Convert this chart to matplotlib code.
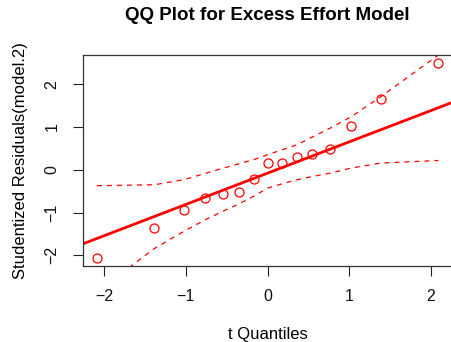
import matplotlib
matplotlib.use("Agg")
import matplotlib.pyplot as plt
import numpy as np

plt.rcParams['font.family'] = ['Liberation Sans', 'DejaVu Sans']

# Data
t_quantiles = [-2.086, -1.383, -1.024, -0.763, -0.547, -0.351, -0.171, 0.0,
               0.175, 0.355, 0.542, 0.763, 1.024, 1.387, 2.089]
stud_resid = [-2.06, -1.37, -0.94, -0.653, -0.56, -0.513, -0.218, 0.156,
              0.163, 0.295, 0.365, 0.49, 1.026, 1.66, 2.50]
env_upper = [-0.373, -0.35, -0.233, -0.085, 0.035, 0.14, 0.235, 0.35,
             0.465, 0.58, 0.76, 0.97, 1.24, 1.71, 2.68]
env_lower = [-2.85, -1.84, -1.44, -1.17, -0.97, -0.80, -0.62, -0.43,
             -0.33, -0.235, -0.16, -0.08, 0.04, 0.156, 0.217]
line_intercept = -0.079
line_slope = 0.732
x_ticks = [-2, -1, 0, 1, 2]
y_ticks = [-2, -1, 0, 1, 2]

fig = plt.figure(figsize=(4.51, 3.42), dpi=100)
ax = fig.add_axes([83.3 / 451, 1 - 265.7 / 342, (452 - 83.3) / 451, (265.7 - 55) / 342])

ax.plot(t_quantiles, stud_resid, 'o', mfc='none', mec='red', ms=6.5, mew=0.9,
        zorder=3)
ax.axline((0, line_intercept), slope=line_slope, color='red', lw=2, zorder=2)
ax.plot(t_quantiles, env_upper, color='red', lw=0.9, ls=(0, (4, 4)), zorder=2)
ax.plot(t_quantiles, env_lower, color='red', lw=0.9, ls=(0, (4, 4)), zorder=2)

xr = max(t_quantiles) - min(t_quantiles)
yr = max(stud_resid) - min(stud_resid)
ax.set_xlim(min(t_quantiles) - 0.04 * xr, max(t_quantiles) + 0.04 * xr)
ax.set_ylim(min(stud_resid) - 0.04 * yr, max(stud_resid) + 0.04 * yr)

ax.set_xticks(x_ticks)
ax.set_yticks(y_ticks)
ax.set_xticklabels(['\u22122', '\u22121', '0', '1', '2'])
ax.set_yticklabels(['\u22122', '\u22121', '0', '1', '2'], rotation=90, va='center')
ax.tick_params(axis='both', length=7, width=0.8, labelsize=11.5, pad=10,
               color='#222222', labelcolor='#111111')

for s in ax.spines.values():
    s.set_color('#333333')
    s.set_linewidth(0.9)

ax.set_title('QQ Plot for Excess Effort Model', fontsize=13.5, fontweight='bold',
             pad=25)
fig.text(267.7 / 451, 1 - 334.5 / 342, 't Quantiles', ha='center', va='center',
         fontsize=12)
fig.text(21 / 451, 1 - 160.4 / 342, 'Studentized Residuals(model.2)', ha='center',
         va='center', rotation=90, fontsize=12)

fig.savefig('out.png', dpi=100)
